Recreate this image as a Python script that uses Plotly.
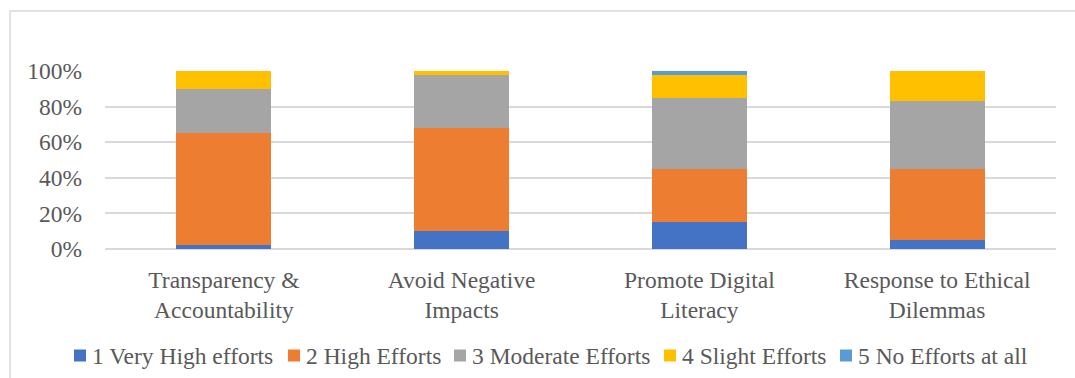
import plotly.graph_objects as go

# Survey categories (two-line tick labels)
categories = [
    "Transparency &<br>Accountability",
    "Avoid Negative<br>Impacts",
    "Promote Digital<br>Literacy",
    "Response to Ethical<br>Dilemmas",
]

# Share of responses per effort level (%)
very_high = [2, 10, 15, 5]
high = [63, 58, 30, 40]
moderate = [25, 30, 40, 38]
slight = [10, 2, 13, 17]
no_efforts = [0, 0, 2, 0]

series_names = [
    "1 Very High efforts",
    "2 High Efforts",
    "3 Moderate Efforts",
    "4 Slight Efforts",
    "5 No Efforts at all",
]
series_values = [very_high, high, moderate, slight, no_efforts]
series_colors = ["#4472C4", "#ED7D31", "#A5A5A5", "#FFC000", "#5B9BD5"]

y_ticks = [0, 20, 40, 60, 80, 100]
y_tick_labels = ["0%", "20%", "40%", "60%", "80%", "100%"]

FONT = "Liberation Serif, Times New Roman, serif"
FS = 23.5
TEXT_COLOR = "#595959"
GRID = "#d9d9d9"

fig = go.Figure()
for name, vals, color in zip(series_names, series_values, series_colors):
    fig.add_trace(
        go.Bar(
            x=categories,
            y=vals,
            name=name,
            marker=dict(color=color, line=dict(width=0)),
            showlegend=False,
        )
    )

W, H = 1075, 378
ml, mr, mt, mb = 105, 19, 71, 129
pw = W - ml - mr
ph = H - mt - mb


def px_x(x):
    return (x - ml) / pw


def px_y(y):
    return (H - mb - y) / ph


# Legend drawn as swatches + labels in a single row
legend_left = [74, 288, 454, 664, 840]
legend_cy = 355.5
swatch = 12
shapes = [
    # chart frame (left and top edges visible)
    dict(
        type="rect",
        xref="paper",
        yref="paper",
        x0=px_x(10),
        x1=px_x(1090),
        y0=px_y(11),
        y1=px_y(395),
        line=dict(color=GRID, width=1.5),
        fillcolor="rgba(0,0,0,0)",
        layer="below",
    )
]
annotations = []
for name, color, lx in zip(series_names, series_colors, legend_left):
    shapes.append(
        dict(
            type="rect",
            xref="paper",
            yref="paper",
            x0=px_x(lx),
            x1=px_x(lx + swatch),
            y0=px_y(legend_cy - swatch / 2),
            y1=px_y(legend_cy + swatch / 2),
            line=dict(width=0),
            fillcolor=color,
        )
    )
    annotations.append(
        dict(
            xref="paper",
            yref="paper",
            x=px_x(lx + 17),
            y=px_y(legend_cy),
            xanchor="left",
            yanchor="middle",
            text=name,
            showarrow=False,
            font=dict(family=FONT, size=FS, color=TEXT_COLOR),
            borderpad=0,
        )
    )

fig.update_layout(
    width=W,
    height=H,
    margin=dict(l=ml, r=mr, t=mt, b=mb, pad=0, autoexpand=False),
    barmode="stack",
    bargap=0.6,
    plot_bgcolor="white",
    paper_bgcolor="white",
    font=dict(family=FONT, size=FS, color=TEXT_COLOR),
    showlegend=False,
    xaxis=dict(
        showgrid=False,
        showline=False,
        ticks="",
        automargin=False,
        ticklabelstandoff=14,
        tickfont=dict(family=FONT, size=FS, color=TEXT_COLOR),
    ),
    yaxis=dict(
        range=[0, 100],
        tickmode="array",
        tickvals=y_ticks,
        ticktext=y_tick_labels,
        showgrid=True,
        gridcolor=GRID,
        gridwidth=1.5,
        zeroline=True,
        zerolinecolor=GRID,
        zerolinewidth=1.5,
        showline=False,
        ticks="",
        automargin=False,
        ticklabelstandoff=22,
        tickfont=dict(family=FONT, size=FS, color=TEXT_COLOR),
    ),
    shapes=shapes,
    annotations=annotations,
)

fig.write_html("out.html")
